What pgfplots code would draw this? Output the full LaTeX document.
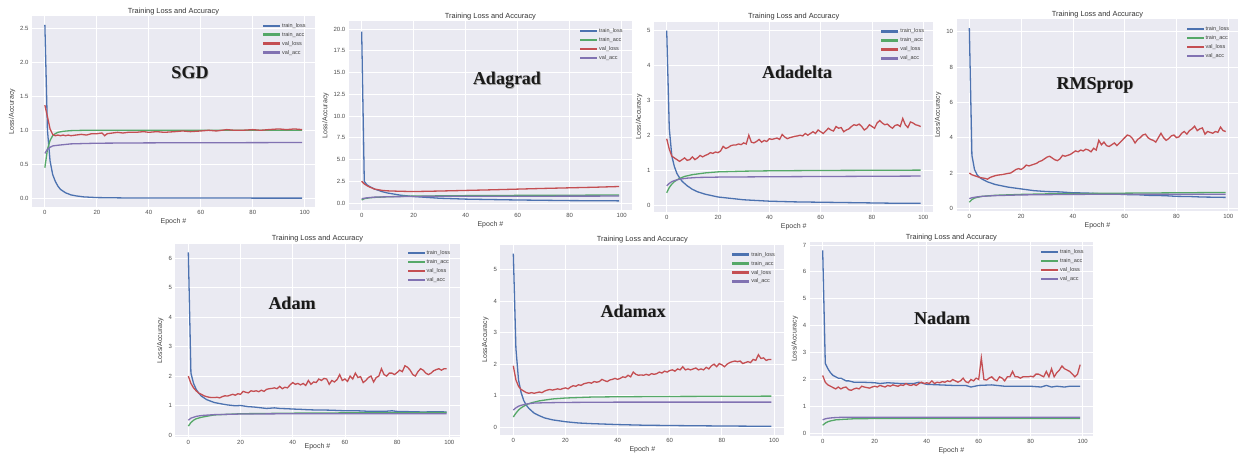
\documentclass[border=0pt]{standalone}
\usepackage{fontspec}
\setmainfont{Liberation Sans}
\newfontfamily\tnr{Liberation Serif}
\usepackage{pgfplots}
\pgfplotsset{compat=1.18}

\definecolor{cblue}{HTML}{4C72B0}
\definecolor{cgreen}{HTML}{55A868}
\definecolor{cred}{HTML}{C44E52}
\definecolor{cpurple}{HTML}{8172B2}
\definecolor{bgc}{HTML}{EAEAF2}

\pgfplotsset{
  tl/.style={color=cblue}, ta/.style={color=cgreen}, vl/.style={color=cred}, va/.style={color=cpurple},
  legline/.style={legend image code/.code={\fill[#1, draw=none] (0pt,-1pt) rectangle (17pt,1.4pt);}},
  panel/.style={
    scale only axis, anchor=south west,
    axis background/.style={fill=bgc},
    axis line style={draw=none},
    major tick length=0pt,
    grid=major, grid style={white, line width=0.8pt},
    xmin=-4.95, xmax=103.95,
    xtick={0,20,...,100},
    tick label style={font=\fontsize{6}{7}\selectfont, text=black!70},
    /pgf/number format/assume math mode=true,
    title={Training Loss and Accuracy},
    title style={font=\fontsize{7.4}{8}\selectfont, text=black!80, yshift=-8pt},
    xlabel={Epoch \#}, ylabel={Loss/Accuracy},
    label style={font=\fontsize{7}{8}\selectfont, text=black!75},
    xlabel style={yshift=3pt}, ylabel style={yshift=-2pt},
    legend style={draw=none, fill=none, at={(0.985,0.985)}, anchor=north east,
      font=\fontsize{5.5}{6}\selectfont, row sep=-0.5pt, text=black!75},
    legend cell align=left,
    every axis plot/.append style={line width=1.3pt, legline},
  },
}
\newcommand{\leg}{\legend{train\_loss,train\_acc,val\_loss,val\_acc}}
\newcommand{\optname}[1]{\tnr\bfseries\fontsize{18}{20}\selectfont #1}

\begin{document}
\begin{tikzpicture}
\path[use as bounding box] (0,0) rectangle (1238pt,453pt);

% ---------- SGD ----------
\begin{axis}[panel, at={(32pt,245.9pt)}, width=283pt, height=191pt,
  ymin=-0.13, ymax=2.68, ytick={0,0.5,...,2.5},
  yticklabel style={/pgf/number format/.cd, fixed, fixed zerofill, precision=1}]
\addplot[tl] coordinates {(0,2.55) (1,1.0) (2,0.55) (3,0.35) (4,0.25) (5,0.18) (6,0.13) (8,0.08) (10,0.05) (12,0.035) (15,0.02) (20,0.01) (30,0.005) (50,0.003) (99,0.002)};
\addplot[ta] coordinates {(0,0.45) (1,0.72) (2,0.85) (3,0.92) (4,0.95) (5,0.97) (7,0.985) (10,0.995) (15,1.0) (99,1.0)};
\addplot[vl] coordinates {(0,1.37) (1,1.2) (2,1.02) (3,0.94) (4,0.92) (5,0.93) (6,0.92) (7,0.93) (8,0.92) (9,0.93) (10,0.92) (12,0.93) (14,0.94) (16,0.93) (18,0.95) (20,0.95) (22,0.96) (23,0.92) (24,0.95) (26,0.96) (28,0.97) (30,0.96) (32,0.97) (35,0.97) (38,0.98) (40,0.97) (43,0.98) (46,0.97) (50,0.98) (53,0.99) (56,0.98) (60,0.99) (63,1.0) (66,0.99) (70,1.01) (73,1.0) (76,1.0) (80,1.01) (83,1.0) (86,1.01) (90,1.02) (93,1.01) (96,1.02) (99,1.01)};
\addplot[va] coordinates {(0,0.66) (1,0.72) (2,0.75) (3,0.77) (5,0.78) (10,0.8) (20,0.81) (40,0.815) (99,0.82)};
\leg
\end{axis}

% ---------- Adagrad ----------
\begin{axis}[panel, at={(348.8pt,243pt)}, width=283.2pt, height=188.8pt,
  ymin=-0.8, ymax=20.9, ytick={0,2.5,...,20},
  yticklabel style={/pgf/number format/.cd, fixed, fixed zerofill, precision=1}]
\addplot[tl] coordinates {(0,19.7) (1,2.5) (2,2.1) (3,1.9) (5,1.6) (8,1.3) (10,1.15) (15,0.9) (20,0.75) (30,0.55) (40,0.45) (60,0.35) (80,0.28) (99,0.25)};
\addplot[ta] coordinates {(0,0.35) (1,0.5) (3,0.6) (5,0.65) (10,0.72) (20,0.8) (40,0.85) (60,0.88) (99,0.92)};
\addplot[vl] coordinates {(0,2.5) (1,2.2) (2,2.0) (3,1.85) (5,1.6) (8,1.45) (10,1.4) (15,1.35) (20,1.32) (30,1.38) (40,1.45) (50,1.52) (60,1.6) (70,1.68) (80,1.75) (90,1.82) (99,1.9)};
\addplot[va] coordinates {(0,0.5) (2,0.6) (5,0.68) (10,0.72) (20,0.76) (40,0.78) (99,0.8)};
\leg
\end{axis}

% ---------- Adadelta ----------
\begin{axis}[panel, at={(654pt,241pt)}, width=279.4pt, height=190.2pt,
  ymin=-0.2, ymax=5.25, ytick={0,1,...,5}]
\addplot[tl] coordinates {(0,5.0) (1,2.2) (2,1.4) (3,1.1) (4,0.9) (5,0.78) (6,0.68) (8,0.55) (10,0.45) (12,0.38) (15,0.31) (20,0.23) (25,0.19) (30,0.15) (40,0.11) (50,0.09) (60,0.08) (70,0.07) (80,0.06) (90,0.05) (99,0.05)};
\addplot[ta] coordinates {(0,0.35) (1,0.5) (2,0.6) (3,0.67) (4,0.72) (5,0.76) (7,0.82) (10,0.87) (15,0.92) (20,0.95) (30,0.97) (40,0.98) (60,0.99) (99,1.0)};
\addplot[vl] coordinates {(0,1.9) (1,1.6) (2,1.4) (3,1.35) (4,1.3) (5,1.25) (6,1.3) (7,1.35) (8,1.28) (9,1.3) (10,1.38) (11,1.3) (12,1.35) (13,1.42) (14,1.38) (15,1.42) (16,1.45) (17,1.5) (18,1.48) (19,1.52) (20,1.5) (21,1.55) (22,1.68) (23,1.62) (24,1.65) (25,1.7) (26,1.72) (27,1.72) (28,1.75) (29,1.73) (30,1.78) (31,1.75) (32,2.0) (33,1.8) (34,1.78) (35,1.82) (36,1.88) (37,1.8) (38,1.85) (39,1.82) (40,1.9) (41,1.88) (42,1.9) (43,1.92) (44,1.88) (45,2.02) (46,1.95) (47,1.9) (48,1.93) (49,1.95) (50,1.97) (51,1.98) (52,2.0) (53,1.98) (54,2.05) (55,2.0) (56,2.05) (57,2.1) (58,2.05) (59,2.15) (60,2.1) (61,2.05) (62,2.12) (63,2.2) (64,2.15) (65,2.12) (66,2.25) (67,2.2) (68,2.22) (69,2.1) (70,2.15) (71,2.18) (72,2.25) (73,2.3) (74,2.28) (75,2.32) (76,2.25) (77,2.15) (78,2.2) (79,2.3) (80,2.25) (81,2.2) (82,2.35) (83,2.42) (84,2.35) (85,2.3) (86,2.32) (87,2.25) (88,2.2) (89,2.28) (90,2.3) (91,2.25) (92,2.48) (93,2.3) (94,2.22) (95,2.38) (96,2.35) (97,2.3) (98,2.28) (99,2.25)};
\addplot[va] coordinates {(0,0.55) (1,0.62) (2,0.67) (3,0.7) (5,0.74) (8,0.77) (12,0.79) (20,0.8) (40,0.81) (99,0.83)};
\leg
\end{axis}

% ---------- RMSprop ----------
\begin{axis}[panel, at={(956.5pt,242pt)}, width=282pt, height=191.7pt,
  ymin=-0.15, ymax=10.7, ytick={0,2,...,10}]
\addplot[tl] coordinates {(0,10.2) (1,3.0) (2,2.2) (3,1.9) (4,1.75) (5,1.65) (7,1.5) (10,1.35) (15,1.2) (20,1.1) (25,1.0) (30,0.95) (35,0.93) (40,0.88) (45,0.87) (50,0.83) (55,0.82) (60,0.78) (65,0.77) (70,0.73) (75,0.72) (80,0.68) (85,0.67) (90,0.64) (95,0.63) (99,0.62)};
\addplot[ta] coordinates {(0,0.35) (1,0.5) (2,0.58) (3,0.62) (5,0.68) (10,0.74) (20,0.79) (30,0.82) (50,0.85) (70,0.87) (99,0.9)};
\addplot[vl] coordinates {(0,2.0) (1,1.9) (2,1.85) (3,1.8) (4,1.75) (5,1.72) (6,1.7) (7,1.65) (8,1.75) (9,1.8) (10,1.85) (11,1.88) (12,1.9) (13,1.92) (14,1.95) (15,1.98) (16,2.0) (17,2.1) (18,2.2) (19,2.25) (20,2.2) (21,2.3) (22,2.45) (23,2.4) (24,2.45) (25,2.5) (26,2.55) (27,2.65) (28,2.7) (29,2.8) (30,2.9) (31,2.95) (32,2.85) (33,2.75) (34,2.7) (35,2.8) (36,3.0) (37,2.95) (38,3.0) (39,3.05) (40,3.15) (41,3.25) (42,3.2) (43,3.3) (44,3.25) (45,3.35) (46,3.3) (47,3.2) (48,3.4) (49,3.3) (50,3.85) (51,3.6) (52,3.75) (53,3.55) (54,3.5) (55,3.6) (56,3.7) (57,3.55) (58,3.7) (59,3.85) (60,4.0) (61,4.15) (62,4.1) (63,3.95) (64,3.7) (65,3.9) (66,4.0) (67,4.15) (68,4.2) (69,4.0) (70,3.9) (71,3.85) (72,3.75) (73,4.0) (74,4.25) (75,4.0) (76,3.85) (77,3.95) (78,4.1) (79,4.15) (80,4.0) (81,4.05) (82,4.25) (83,4.35) (84,4.2) (85,4.4) (86,4.5) (87,4.65) (88,4.4) (89,4.5) (90,4.55) (91,4.2) (92,4.35) (93,4.3) (94,4.25) (95,4.35) (96,4.3) (97,4.6) (98,4.4) (99,4.35)};
\addplot[va] coordinates {(0,0.55) (1,0.6) (3,0.65) (5,0.68) (10,0.72) (20,0.76) (40,0.79) (60,0.8) (99,0.8)};
\leg
\end{axis}

% ---------- Adam ----------
\begin{axis}[panel, at={(175.4pt,16pt)}, width=284.2pt, height=193.4pt,
  ymin=-0.07, ymax=6.5, ytick={0,1,...,6}, xlabel style={yshift=5pt}]
\addplot[tl] coordinates {(0,6.2) (1,2.1) (2,1.75) (3,1.55) (4,1.42) (5,1.32) (7,1.2) (10,1.1) (13,1.05) (15,1.02) (18,0.99) (20,1.0) (23,0.96) (25,0.95) (28,0.92) (30,0.9) (33,0.92) (35,0.9) (38,0.89) (40,0.88) (43,0.87) (45,0.86) (48,0.85) (50,0.85) (55,0.84) (60,0.82) (65,0.82) (70,0.8) (75,0.8) (78,0.82) (80,0.8) (85,0.79) (90,0.78) (95,0.79) (99,0.78)};
\addplot[ta] coordinates {(0,0.3) (1,0.42) (2,0.5) (3,0.55) (5,0.6) (8,0.65) (10,0.68) (15,0.7) (20,0.72) (40,0.74) (60,0.75) (99,0.76)};
\addplot[vl] coordinates {(0,2.0) (1,1.75) (2,1.6) (3,1.5) (4,1.42) (5,1.38) (6,1.33) (7,1.3) (8,1.28) (9,1.27) (10,1.27) (11,1.28) (12,1.26) (13,1.3) (14,1.33) (15,1.32) (16,1.35) (17,1.38) (18,1.35) (19,1.4) (20,1.38) (21,1.48) (22,1.45) (23,1.43) (24,1.5) (25,1.48) (26,1.5) (27,1.47) (28,1.52) (29,1.48) (30,1.55) (31,1.57) (32,1.58) (33,1.6) (34,1.57) (35,1.65) (36,1.57) (37,1.62) (38,1.6) (39,1.7) (40,1.78) (41,1.72) (42,1.75) (43,1.7) (44,1.75) (45,1.68) (46,1.85) (47,1.72) (48,1.8) (49,1.78) (50,1.9) (51,1.85) (52,1.92) (53,1.9) (54,1.72) (55,1.85) (56,1.8) (57,1.88) (58,2.05) (59,1.85) (60,1.9) (61,1.82) (62,2.0) (63,1.9) (64,2.1) (65,1.95) (66,1.98) (67,1.78) (68,1.85) (69,1.95) (70,2.0) (71,1.8) (72,1.95) (73,2.0) (74,2.25) (75,2.05) (76,2.0) (77,2.1) (78,2.1) (79,2.05) (80,2.12) (81,2.2) (82,2.15) (83,2.35) (84,2.3) (85,2.2) (86,2.05) (87,2.0) (88,2.15) (89,2.25) (90,2.2) (91,2.1) (92,2.05) (93,2.1) (94,2.18) (95,2.22) (96,2.25) (97,2.2) (98,2.25) (99,2.25)};
\addplot[va] coordinates {(0,0.5) (1,0.57) (2,0.6) (3,0.63) (5,0.66) (10,0.69) (20,0.71) (40,0.72) (99,0.72)};
\leg
\end{axis}

% ---------- Adamax ----------
\begin{axis}[panel, at={(500.4pt,18pt)}, width=283.9pt, height=190pt,
  ymin=-0.24, ymax=5.77, ytick={0,1,...,5}]
\addplot[tl] coordinates {(0,5.5) (1,2.5) (2,1.5) (3,1.1) (4,0.85) (5,0.7) (6,0.6) (8,0.45) (10,0.37) (12,0.3) (15,0.24) (20,0.18) (25,0.14) (30,0.12) (40,0.09) (50,0.07) (60,0.06) (80,0.045) (99,0.035)};
\addplot[ta] coordinates {(0,0.33) (1,0.45) (2,0.55) (3,0.62) (4,0.67) (5,0.72) (7,0.78) (10,0.84) (15,0.9) (20,0.93) (30,0.96) (40,0.97) (60,0.98) (99,0.99)};
\addplot[vl] coordinates {(0,1.95) (1,1.5) (2,1.3) (3,1.2) (4,1.15) (5,1.1) (6,1.08) (7,1.1) (8,1.08) (9,1.1) (10,1.12) (11,1.1) (12,1.15) (13,1.18) (14,1.2) (15,1.18) (16,1.2) (17,1.22) (18,1.2) (19,1.23) (20,1.25) (21,1.22) (22,1.28) (23,1.32) (24,1.3) (25,1.35) (26,1.33) (27,1.38) (28,1.4) (29,1.42) (30,1.4) (31,1.45) (32,1.43) (33,1.45) (34,1.52) (35,1.48) (36,1.45) (37,1.5) (38,1.52) (39,1.55) (40,1.52) (41,1.55) (42,1.6) (43,1.58) (44,1.65) (45,1.6) (46,1.75) (47,1.68) (48,1.65) (49,1.66) (50,1.65) (51,1.68) (52,1.65) (53,1.7) (54,1.68) (55,1.7) (56,1.75) (57,1.72) (58,1.78) (59,1.75) (60,1.8) (61,1.82) (62,1.78) (63,1.85) (64,1.82) (65,1.92) (66,1.82) (67,1.85) (68,1.82) (69,1.85) (70,1.88) (71,1.82) (72,1.85) (73,1.82) (74,1.9) (75,1.85) (76,1.95) (77,2.0) (78,1.92) (79,2.02) (80,1.98) (81,1.92) (82,2.0) (83,2.05) (84,2.08) (85,2.1) (86,2.08) (87,2.1) (88,2.02) (89,2.05) (90,2.08) (91,2.05) (92,2.15) (93,2.12) (94,2.3) (95,2.18) (96,2.2) (97,2.12) (98,2.15) (99,2.15)};
\addplot[va] coordinates {(0,0.55) (1,0.62) (2,0.67) (3,0.7) (5,0.74) (8,0.77) (12,0.78) (20,0.79) (40,0.8) (99,0.8)};
\leg
\end{axis}

% ---------- Nadam ----------
\begin{axis}[panel, at={(809.8pt,17pt)}, width=283.2pt, height=193.7pt,
  ymin=-0.1, ymax=7.1, ytick={0,1,...,7}]
\addplot[tl] coordinates {(0,6.8) (1,2.6) (2,2.4) (3,2.25) (4,2.15) (5,2.1) (6,2.05) (7,2.05) (8,2.0) (9,1.95) (10,1.95) (12,1.9) (15,1.9) (20,1.88) (22,1.85) (25,1.88) (30,1.85) (35,1.85) (37,1.9) (40,1.82) (45,1.8) (50,1.78) (55,1.78) (57,1.72) (60,1.78) (65,1.8) (70,1.75) (75,1.75) (80,1.75) (84,1.72) (86,1.78) (88,1.72) (90,1.75) (93,1.72) (95,1.75) (99,1.75)};
\addplot[ta] coordinates {(0,0.3) (1,0.38) (2,0.43) (3,0.46) (5,0.5) (8,0.52) (12,0.54) (20,0.55) (40,0.55) (60,0.55) (99,0.55)};
\addplot[vl] coordinates {(0,2.15) (1,1.9) (2,1.8) (3,1.75) (4,1.7) (5,1.65) (6,1.72) (7,1.65) (8,1.7) (9,1.72) (10,1.62) (11,1.6) (12,1.65) (13,1.68) (14,1.65) (15,1.75) (16,1.72) (17,1.7) (18,1.68) (19,1.72) (20,1.75) (21,1.72) (22,1.78) (23,1.75) (24,1.72) (25,1.78) (26,1.75) (27,1.8) (28,1.77) (29,1.75) (30,1.8) (31,1.78) (32,1.85) (33,1.8) (34,1.78) (35,1.82) (36,1.78) (37,1.85) (38,1.9) (39,1.85) (40,1.88) (41,1.85) (42,1.95) (43,1.85) (44,1.9) (45,1.88) (46,1.92) (47,1.9) (48,1.95) (49,1.92) (50,2.0) (51,1.95) (52,1.9) (53,1.95) (54,2.05) (55,1.92) (56,1.88) (57,2.0) (58,1.95) (59,2.05) (60,2.0) (61,2.8) (62,2.0) (63,1.98) (64,2.05) (65,2.1) (66,2.0) (67,1.95) (68,2.1) (69,2.05) (70,1.95) (71,2.1) (72,2.1) (73,2.3) (74,2.1) (75,2.1) (76,2.05) (77,2.1) (78,2.1) (79,2.1) (80,2.12) (81,2.1) (82,2.2) (83,2.2) (84,2.15) (85,2.1) (86,2.3) (87,2.1) (88,2.4) (89,2.1) (90,2.25) (91,2.35) (92,2.5) (93,2.4) (94,2.35) (95,2.3) (96,2.2) (97,2.1) (98,2.2) (99,2.55)};
\addplot[va] coordinates {(0,0.5) (1,0.54) (2,0.56) (4,0.58) (8,0.6) (15,0.6) (40,0.6) (60,0.6) (99,0.6)};
\leg
\end{axis}

% optimizer names
\foreach \x/\y/\t in {190/380/SGD, 507/373/Adagrad, 797/381/Adadelta, 1095/368/RMSprop, 292/150/Adam, 633/142/Adamax, 942/135/Nadam}{
  \node[text=black!35] at (\x pt+0.8pt,\y pt-0.8pt) {\optname{\t}};
  \node[text=black!90] at (\x pt,\y pt) {\optname{\t}};
}
\end{tikzpicture}
\end{document}
